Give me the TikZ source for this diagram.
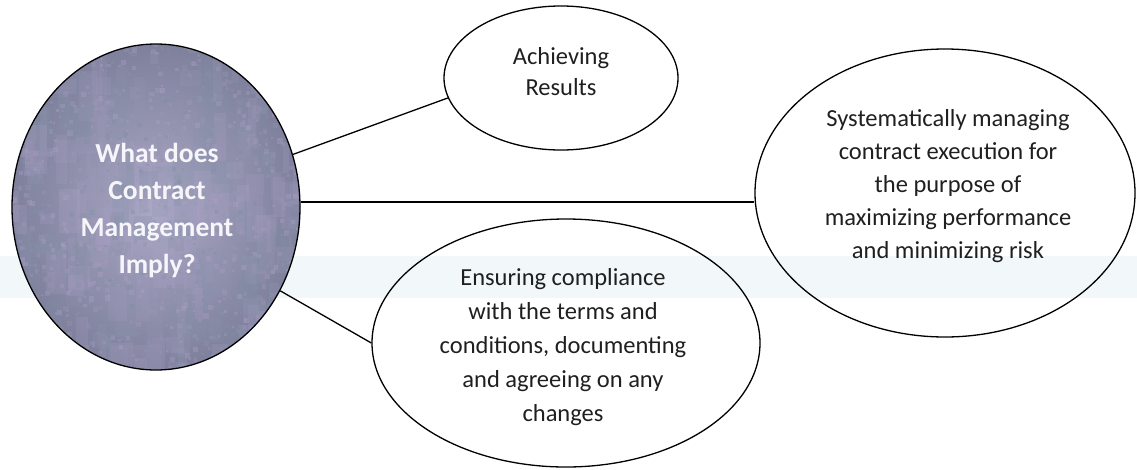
\documentclass[tikz,border=0pt]{standalone}
\usepackage{fontspec}
\setmainfont{Carlito}
\usetikzlibrary{shapes.geometric}
\definecolor{patchA}{RGB}{180,162,204}
\definecolor{patchB}{RGB}{124,142,160}
\definecolor{coreIn}{RGB}{170,168,198}
\definecolor{coreOut}{RGB}{126,128,156}
\definecolor{bandcol}{RGB}{242,248,250}
\definecolor{coretext}{RGB}{246,245,250}
\begin{document}
\begin{tikzpicture}[x=1pt,y=-1pt,
  bubble/.style={ellipse, draw=black, line width=1.3pt, inner sep=0pt},
  bubbletext/.style={align=center, text=black!88, inner sep=0pt},
  link/.style={draw=black, line width=1.3pt}]
\useasboundingbox (0,0) rectangle (1137,469);

% faint horizontal tint across the page
\fill[bandcol] (0,256) rectangle (1137,298);

% central question bubble with a mottled fill
\node[bubble, minimum width=288pt, minimum height=326pt,
      inner color=coreIn, outer color=coreOut,
      path picture={
        \pgfmathsetseed{12}
        \foreach \k in {1,...,260}{
          \pgfmathsetmacro\px{rnd*300-150}
          \pgfmathsetmacro\py{rnd*340-170}
          \pgfmathsetmacro\pw{6+rnd*18}
          \pgfmathsetmacro\ph{10+rnd*40}
          \pgfmathtruncatemacro\mx{rnd*100}
          \fill[patchA!\mx!patchB, opacity=0.22]
            ([shift={(\px,\py)}]path picture bounding box.center) rectangle ++(\pw,\ph);
        }
        \foreach \k in {1,...,1400}{
          \pgfmathsetmacro\px{rnd*300-150}
          \pgfmathsetmacro\py{rnd*340-170}
          \pgfmathsetmacro\pw{1.5+rnd*4}
          \pgfmathtruncatemacro\mx{rnd*100}
          \fill[patchA!\mx!patchB, opacity=0.35]
            ([shift={(\px,\py)}]path picture bounding box.center) rectangle ++(\pw,\pw);
        }
      }] (q) at (156,207) {};
\node[align=center, inner sep=0pt, text=coretext,
      font=\bfseries\fontsize{27.5}{37}\selectfont] (qt) at (157,211)
  {What does\\Contract\\Management\\Imply?};

% answer bubbles
\node[bubble, minimum width=234pt, minimum height=144pt] (res) at (561,78) {};
\node[bubbletext, font=\fontsize{24.5}{31}\selectfont] (rest) at (561,72)
  {Achieving\\Results};

\node[bubble, minimum width=380pt, minimum height=288pt] (sys) at (945,193) {};
\node[bubbletext, font=\fontsize{24.5}{33}\selectfont] (syst) at (948,186)
  {Systematically managing\\contract execution for\\the purpose of\\maximizing performance\\and minimizing risk};

\node[bubble, minimum width=388pt, minimum height=248pt] (ens) at (566,343) {};
\node[bubbletext, font=\fontsize{24.5}{34}\selectfont] (enst) at (563,347)
  {Ensuring compliance\\with the terms and\\conditions, documenting\\and agreeing on any\\changes};

% connectors
\draw[link] (q.21) -- (res.190);
\draw[link] (q.2) -- (q.2 -| sys.west);
\draw[link] (q.-34) -- (ens.180);
\end{tikzpicture}
\end{document}
